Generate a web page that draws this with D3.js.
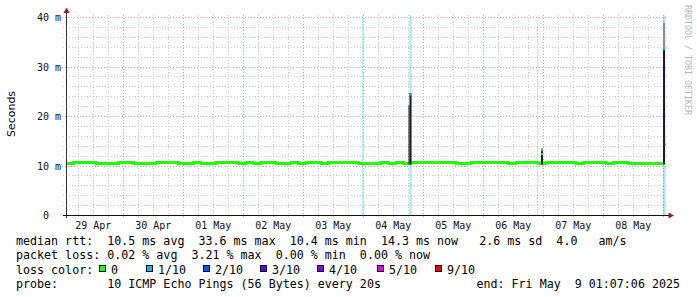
<!DOCTYPE html>
<html>
<head>
<meta charset="utf-8">
<script src="https://cdn.jsdelivr.net/npm/d3@7"></script>
<style>
  html, body { margin: 0; padding: 0; background: #fff; }
  svg { display: block; }
  text { white-space: pre; }
</style>
</head>
<body>
<div id="chart"></div>
<script>
// time window of the graph (10 days ending at the probe end time)
var startTime = new Date(Date.UTC(2025, 3, 29, 1, 7, 6));
var endTime = new Date(Date.UTC(2025, 4, 9, 1, 7, 6));

// median rtt (ms), one value every 3 hours from startTime
var medianStepHours = 3;
var medianEnd = "2025-05-08T23:55:00Z";
var medianMs = [
  10.5, 10.7, 10.7, 10.7, 10.5, 10.5, 10.5, 10.7, 10.7, 10.5,
  10.5, 10.5, 10.7, 10.7, 10.7, 10.5, 10.5, 10.7, 10.5, 10.5,
  10.7, 10.7, 10.7, 10.5, 10.7, 10.5, 10.7, 10.7, 10.5, 10.5,
  10.7, 10.5, 10.7, 10.7, 10.5, 10.7, 10.7, 10.7, 10.7, 10.5,
  10.5, 10.5, 10.7, 10.5, 10.7, 10.5, 10.7, 10.7, 10.7, 10.7,
  10.7, 10.7, 10.5, 10.5, 10.7, 10.7, 10.7, 10.7, 10.7, 10.5,
  10.7, 10.7, 10.7, 10.5, 10.7, 10.7, 10.7, 10.7, 10.5, 10.7,
  10.7, 10.7, 10.5, 10.7, 10.7, 10.5, 10.5, 10.5, 10.5, 10.5
];

// individual samples with smoke (ping spread)
var sampleTimes = ["2025-05-04T18:07:00Z", "2025-05-04T18:31:00Z", "2025-05-06T23:07:00Z", "2025-05-08T23:55:00Z", "2025-05-09T00:43:00Z"];
var sampleMinutes = [24, 48, 48, 48, 24];
var sampleMedian = [22.2, 24.4, 12.4, 33.6, 14.3];
var sampleSmokeLow = [10.3, 10.3, 10.3, 10.3, 14.3];
var sampleSmokeHigh = [22.2, 24.7, 13.0, 33.8, 14.3];
var sampleSmokeTop = [22.2, 24.7, 13.6, 38.9, 14.3];
var sampleLoss = [1, 1, 0, 1, 0];

// packet loss periods (loss in tenths)
var lossTimes = ["2025-05-03T23:38:00Z", "2025-05-04T18:31:00Z", "2025-05-06T21:38:00Z", "2025-05-08T23:55:00Z"];
var lossMinutes = [24, 48, 24, 60];
var lossLevel = [1, 1, 1, 1];

// y axis
var yTickValues = [0, 10, 20, 30, 40];
var yTickLabels = ["0  ", "10 m", "20 m", "30 m", "40 m"];

// legend
var lossLabels = ["0", "1/10", "2/10", "3/10", "4/10", "5/10", "9/10"];
var lossColors = ["#26ff00", "#00b8ff", "#0059ff", "#5e00ff", "#7e00ff", "#dd00ff", "#ff0000"];
var rttStats = [10.5, 33.6, 10.4, 14.3, 2.6]; // avg max min now sd
var amPerSec = 4.0;
var lossStats = [0.02, 3.21, 0.00, 0.00]; // avg max min now
var probeText = "10 ICMP Echo Pings (56 Bytes) every 20s";

var width = 697, height = 297;
var mono = "'DejaVu Sans Mono', monospace";

var svg = d3.select("#chart").append("svg")
  .attr("width", width)
  .attr("height", height);

var x = d3.scaleUtc().domain([startTime, endTime]).range([66, 666]);
var y = d3.scaleLinear().domain([0, 40]).range([215.5, 17.5]);
var crisp = function(v) { return Math.floor(v) + 0.5; };

// --- grid
var grid = svg.append("g");
var minorX = d3.utcHour.every(6).range(startTime, endTime).filter(function(d) { return d.getUTCHours() !== 0; });
var majorX = d3.utcDay.range(startTime, endTime);

grid.selectAll(".vminor").data(minorX).enter().append("line")
  .attr("x1", function(d) { return crisp(x(d)); })
  .attr("x2", function(d) { return crisp(x(d)); })
  .attr("y1", 15).attr("y2", 218)
  .attr("stroke", "#c8c8c8").attr("stroke-dasharray", "1,2");

var minorY = d3.range(2, 41, 2).filter(function(v) { return v % 10 !== 0; });
grid.selectAll(".hminor").data(minorY).enter().append("line")
  .attr("x1", 63).attr("x2", 668)
  .attr("y1", function(d) { return crisp(y(d)); })
  .attr("y2", function(d) { return crisp(y(d)); })
  .attr("stroke", "#c8c8c8").attr("stroke-dasharray", "1,2");

grid.selectAll(".vmajor").data(majorX).enter().append("line")
  .attr("x1", function(d) { return crisp(x(d)); })
  .attr("x2", function(d) { return crisp(x(d)); })
  .attr("y1", 15).attr("y2", 218)
  .attr("stroke", "#e39a9a").attr("stroke-dasharray", "1,2");

grid.selectAll(".hmajor").data(yTickValues.slice(1)).enter().append("line")
  .attr("x1", 62).attr("x2", 668)
  .attr("y1", function(d) { return crisp(y(d)); })
  .attr("y2", function(d) { return crisp(y(d)); })
  .attr("stroke", "#e39a9a").attr("stroke-dasharray", "1,2");

// --- median line (loss 0)
var medianPts = medianMs.map(function(v, i) {
  return { t: new Date(startTime.getTime() + i * medianStepHours * 3600e3), v: v };
});
medianPts = medianPts.filter(function(d) { return d.t < new Date(medianEnd); });
medianPts.push({ t: new Date(medianEnd), v: medianPts[medianPts.length - 1].v });

svg.append("path")
  .datum(medianPts)
  .attr("d", d3.line().curve(d3.curveStepAfter)
    .x(function(d) { return x(d.t); })
    .y(function(d) { return y(d.v); }))
  .attr("fill", "none")
  .attr("stroke", lossColors[0])
  .attr("stroke-width", 3);

// --- loss background bands
var lossData = lossTimes.map(function(t, i) {
  var t0 = new Date(t);
  return { t0: t0, t1: new Date(t0.getTime() + lossMinutes[i] * 60e3), loss: lossLevel[i] };
});
svg.selectAll(".loss").data(lossData).enter().append("rect")
  .attr("x", function(d) { return x(d.t0); })
  .attr("width", function(d) { return x(d.t1) - x(d.t0); })
  .attr("y", 15.5).attr("height", 200)
  .attr("fill", lossColors[1]).attr("opacity", 0.36);

// --- smoke and median of the spike samples
var samples = sampleTimes.map(function(t, i) {
  var t0 = new Date(t);
  return {
    t0: t0, t1: new Date(t0.getTime() + sampleMinutes[i] * 60e3),
    med: sampleMedian[i], lo: sampleSmokeLow[i], hi: sampleSmokeHigh[i],
    top: sampleSmokeTop[i], loss: sampleLoss[i]
  };
});
var sg = svg.selectAll(".sample").data(samples).enter().append("g");
sg.append("rect")
  .attr("x", function(d) { return x(d.t0); })
  .attr("width", function(d) { return x(d.t1) - x(d.t0); })
  .attr("y", function(d) { return y(d.top); })
  .attr("height", function(d) { return y(d.hi) - y(d.top); })
  .attr("fill", "#8c8c8c");
sg.append("rect")
  .attr("x", function(d) { return x(d.t0); })
  .attr("width", function(d) { return x(d.t1) - x(d.t0); })
  .attr("y", function(d) { return y(d.hi); })
  .attr("height", function(d) { return y(d.lo) - y(d.hi); })
  .attr("fill", "#1e1e1e");
sg.append("rect")
  .attr("x", function(d) { return x(d.t0); })
  .attr("width", function(d) { return x(d.t1) - x(d.t0); })
  .attr("y", function(d) { return y(d.med) - 1; })
  .attr("height", 2)
  .attr("fill", function(d) { return d.loss >= 9 ? lossColors[6] : lossColors[Math.min(d.loss, 5)]; });

// --- axes
svg.append("line").attr("x1", 66.5).attr("x2", 66.5).attr("y1", 11).attr("y2", 218)
  .attr("stroke", "#333");
svg.append("line").attr("x1", 63).attr("x2", 670).attr("y1", 215.5).attr("y2", 215.5)
  .attr("stroke", "#111");
svg.append("path").attr("d", "M63.5,13L69.5,13L66.5,7.5Z").attr("fill", "#a0191b");
svg.append("path").attr("d", "M668.5,212.5L668.5,218.5L674,215.5Z").attr("fill", "#a0191b");

// y tick labels
svg.selectAll(".ylab").data(yTickValues).enter().append("text")
  .attr("x", 61)
  .attr("y", function(d) { return y(d) + 3.5; })
  .attr("text-anchor", "end")
  .attr("font-family", mono).attr("font-size", 10)
  .attr("fill", "#111")
  .text(function(d, i) { return yTickLabels[i]; });

// x tick labels at noon of each day
var fmtDay = d3.utcFormat("%d %b");
var labelDays = d3.utcDay.range(d3.utcDay.floor(startTime), endTime)
  .map(function(d) { return d3.utcHour.offset(d, 12); })
  .filter(function(d) { return d > startTime && d < endTime; });
svg.selectAll(".xlab").data(labelDays).enter().append("text")
  .attr("x", function(d) { return x(d); })
  .attr("y", 228.5)
  .attr("text-anchor", "middle")
  .attr("font-family", mono).attr("font-size", 10)
  .attr("fill", "#111")
  .text(function(d) { return fmtDay(d); });

// axis title
svg.append("text")
  .attr("transform", "translate(15,114) rotate(-90)")
  .attr("text-anchor", "middle")
  .attr("font-family", "'DejaVu Sans', sans-serif").attr("font-size", 11)
  .attr("fill", "#000")
  .text("Seconds");

// watermark
svg.append("text")
  .attr("transform", "translate(685,5) rotate(90)")
  .attr("font-family", mono).attr("font-size", 8.3)
  .attr("fill", "#b4b4b4")
  .text("RRDTOOL / TOBI OETIKER");

// --- legend
var legFont = 11.66;
var f41 = d3.format("4.1f"), f2 = d3.format(".2f");
var leg = svg.append("g")
  .attr("font-family", mono).attr("font-size", legFont).attr("fill", "#000");

leg.append("text").attr("x", 16).attr("y", 244.5).attr("xml:space", "preserve")
  .text("median rtt:  " + f41(rttStats[0]) + " ms avg  " + f41(rttStats[1]) + " ms max  " +
    f41(rttStats[2]) + " ms min  " + f41(rttStats[3]) + " ms now  " +
    f41(rttStats[4]) + " ms sd  " + amPerSec.toFixed(1) + "   am/s");

leg.append("text").attr("x", 16).attr("y", 259).attr("xml:space", "preserve")
  .text("packet loss: " + f2(lossStats[0]) + " % avg  " + f2(lossStats[1]) + " % max  " +
    f2(lossStats[2]) + " % min  " + f2(lossStats[3]) + " % now");

leg.append("text").attr("x", 16).attr("y", 273.5).text("loss color:");

var swatchX = [99, 146, 203, 260, 317, 377, 435];
lossLabels.forEach(function(lab, i) {
  leg.append("rect")
    .attr("x", swatchX[i] + 0.5).attr("y", 265.5)
    .attr("width", 6).attr("height", 6)
    .attr("fill", lossColors[i]).attr("stroke", "#000").attr("stroke-width", 1);
  leg.append("text").attr("x", swatchX[i] + 12).attr("y", 273.5).text(lab);
});

leg.append("text").attr("x", 16).attr("y", 288).attr("xml:space", "preserve")
  .text("probe:       " + probeText);

leg.append("text").attr("x", 680).attr("y", 288).attr("text-anchor", "end").attr("xml:space", "preserve")
  .text("end: " + d3.utcFormat("%a %b %e %H:%M:%S %Y")(endTime));
</script>
</body>
</html>
